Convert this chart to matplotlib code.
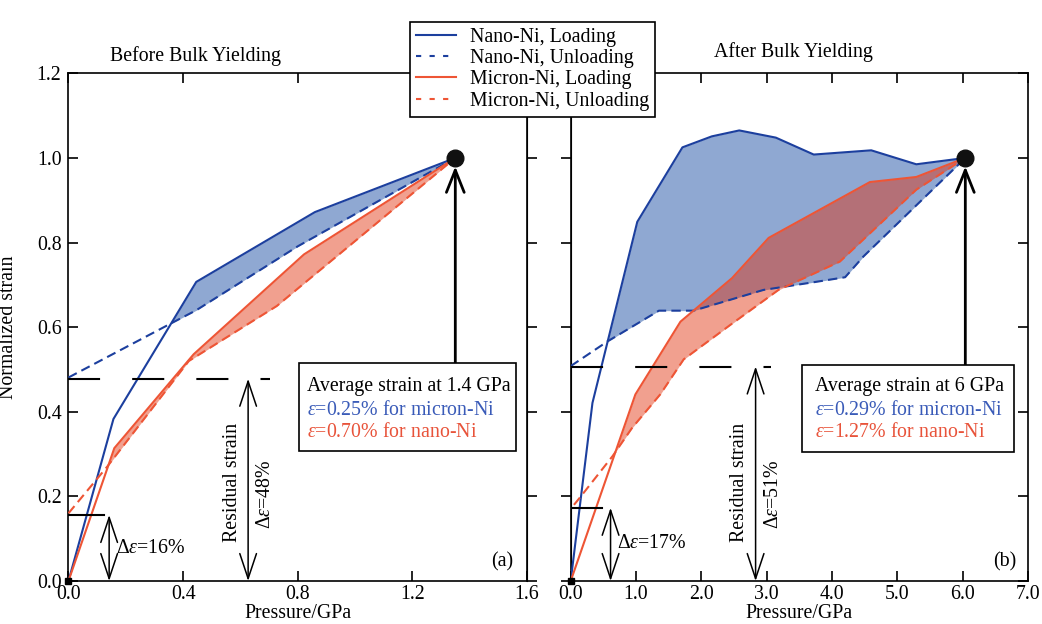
import numpy as np
import matplotlib
matplotlib.use("Agg")
import matplotlib.pyplot as plt
from matplotlib.lines import Line2D
from matplotlib.patches import Rectangle

plt.rcParams['font.family'] = ['Liberation Serif', 'DejaVu Serif']
plt.rcParams['mathtext.fontset'] = 'custom'
plt.rcParams['mathtext.rm'] = 'Liberation Serif'
plt.rcParams['mathtext.it'] = 'Liberation Serif:italic'
FS = 14.3
plt.rcParams['font.size'] = FS

# ---------------- data: panel (a) before bulk yielding ----------------
a_nano_load_x = [0.0, 0.157, 0.446, 0.860, 1.35]
a_nano_load_y = [0.0, 0.383, 0.707, 0.872, 1.0]
a_nano_unload_x = [0.0, 0.361, 0.446, 0.80, 1.35]
a_nano_unload_y = [0.481, 0.610, 0.640, 0.791, 1.0]
a_micron_load_x = [0.0, 0.160, 0.437, 0.822, 1.35]
a_micron_load_y = [0.0, 0.314, 0.536, 0.772, 1.0]
a_micron_unload_x = [0.0, 0.136, 0.42, 0.727, 1.35]
a_micron_unload_y = [0.160, 0.271, 0.520, 0.650, 1.0]
a_end = (1.35, 1.0)

# ---------------- data: panel (b) after bulk yielding ----------------
b_nano_load_x = [0.0, 0.333, 1.019, 1.71, 2.16, 2.58, 3.14, 3.72, 4.60, 5.29, 6.04]
b_nano_load_y = [0.0, 0.421, 0.849, 1.025, 1.051, 1.065, 1.048, 1.008, 1.018, 0.985, 1.0]
b_nano_unload_x = [0.0, 0.56, 1.35, 1.88, 2.95, 3.71, 4.20, 4.48, 6.04]
b_nano_unload_y = [0.508, 0.566, 0.639, 0.639, 0.688, 0.706, 0.718, 0.767, 1.0]
b_micron_load_x = [0.0, 0.99, 1.68, 2.47, 3.03, 4.58, 5.29, 6.04]
b_micron_load_y = [0.0, 0.441, 0.613, 0.716, 0.811, 0.943, 0.955, 1.0]
b_micron_unload_x = [0.05, 0.155, 0.64, 0.94, 1.37, 1.73, 2.44, 3.18, 4.12, 5.29, 6.04]
b_micron_unload_y = [0.18, 0.20, 0.295, 0.362, 0.441, 0.524, 0.605, 0.688, 0.755, 0.925, 1.0]
b_end = (6.04, 1.0)

a_xticks = [0.0, 0.4, 0.8, 1.2, 1.6]
b_xticks = [0.0, 1.0, 2.0, 3.0, 4.0, 5.0, 6.0, 7.0]
yticks = [0.0, 0.2, 0.4, 0.6, 0.8, 1.0, 1.2]

BLUE = '#1c3f9e'
RED = '#ee5535'
BLUE_FILL = '#8fa8d2'
RED_FILL = (226/255, 44/255, 8/255)
BLUE_TXT = '#3a5bb8'
RED_TXT = '#e8533a'

fig = plt.figure(figsize=(10.42, 6.24), dpi=100)
axA = fig.add_axes([0.0657, 0.0689, 0.440, 0.8136])
axB = fig.add_axes([0.5477, 0.0689, 0.4389, 0.8136])

DASH = (4.5, 2.5)


def fill_loop(ax, lx, ly, ux, uy, color, alpha, z):
    xs = np.unique(np.concatenate([lx, ux]))
    xs = np.linspace(xs.min(), xs.max(), 800)
    yl = np.interp(xs, lx, ly)
    yu = np.interp(xs, ux, uy)
    ax.fill_between(xs, yl, yu, where=yl >= yu, interpolate=True,
                    color=color, alpha=alpha, lw=0, zorder=z)


def draw_panel(ax, nlx, nly, nux, nuy, mlx, mly, mux, muy, end):
    fill_loop(ax, nlx, nly, nux, nuy, BLUE_FILL, 1.0, 1)
    fill_loop(ax, mlx, mly, mux, muy, RED_FILL, 0.45, 2)
    ax.plot(nlx, nly, color=BLUE, lw=1.5, zorder=4)
    ax.plot(nux, nuy, color=BLUE, lw=1.5, ls=(0, DASH), zorder=4)
    ax.plot(mlx, mly, color=RED, lw=1.5, zorder=4)
    ax.plot(mux, muy, color=RED, lw=1.5, ls=(0, DASH), zorder=4)
    ax.plot([end[0]], [end[1]], 'o', color='#111111', ms=12, zorder=6)
    ax.plot([0], [0], 's', color='black', ms=5, zorder=6, clip_on=False)


draw_panel(axA, a_nano_load_x, a_nano_load_y, a_nano_unload_x, a_nano_unload_y,
           a_micron_load_x, a_micron_load_y, a_micron_unload_x, a_micron_unload_y, a_end)
draw_panel(axB, b_nano_load_x, b_nano_load_y, b_nano_unload_x, b_nano_unload_y,
           b_micron_load_x, b_micron_load_y, b_micron_unload_x, b_micron_unload_y, b_end)

# axes setup
for ax, xt, xlim in [(axA, a_xticks, (0, 1.6)), (axB, b_xticks, (0, 7.0))]:
    ax.set_xlim(*xlim)
    ax.set_ylim(0, 1.2)
    ax.set_xticks(xt)
    ax.set_xticklabels([f'{v:.1f}' for v in xt])
    ax.set_yticks(yticks)
    ax.tick_params(axis='x', direction='in', top=True, length=7, width=1.2, pad=3, labelsize=FS)
    ax.set_xlabel('Pressure/GPa', fontsize=FS, labelpad=0)
    for s in ax.spines.values():
        s.set_linewidth(1.2)

axA.set_yticklabels([f'{v:.1f}' for v in yticks])
axA.tick_params(axis='y', direction='in', left=True, right=False, length=7, width=1.2, labelsize=FS, pad=5)
secA = axA.secondary_yaxis('right')
secA.set_yticks(yticks)
secA.tick_params(axis='y', direction='out', length=7, width=1.2, labelright=False)
axA.set_ylabel('Normalized strain', fontsize=FS)
axA.yaxis.set_label_coords(-0.11, 0.5)

axB.tick_params(axis='y', direction='in', left=False, right=True, labelleft=False, length=7, width=1.2)
secB = axB.secondary_yaxis('left')
secB.set_yticks(yticks)
secB.tick_params(axis='y', direction='out', length=7, width=1.2, labelleft=False)

arrow_big = dict(arrowstyle='->,head_length=0.8,head_width=0.32', lw=2.0, color='black',
                 mutation_scale=20, shrinkA=0, shrinkB=0)
arrow_dbl = dict(arrowstyle='<->,head_length=0.9,head_width=0.3', lw=1.1, color='black',
                 mutation_scale=20, shrinkA=0, shrinkB=0)


def annotate_panel(ax, end, small_y, small_x1, small_arrow_x, small_text_x, small_text_y, small_label,
                   res_y, res_x1, res_arrow_x, res_text_x, res_label_x, res_label,
                   box, text_x, lines, letter, letter_x):
    ax.plot([0.0, small_x1], [small_y, small_y], color='black', lw=1.5, zorder=5)
    ax.annotate('', xy=(small_arrow_x, small_y), xytext=(small_arrow_x, 0.0),
                arrowprops=arrow_dbl, zorder=5)
    ax.text(small_text_x, small_text_y, small_label, ha='left', va='center', fontsize=FS)
    ax.plot([0.0, res_x1], [res_y, res_y], color='black', lw=1.5,
            ls=(0, (15.4, 15.4)), zorder=5)
    ax.annotate('', xy=(res_arrow_x, res_y), xytext=(res_arrow_x, 0.0),
                arrowprops=arrow_dbl, zorder=5)
    ax.text(res_text_x, 0.232, 'Residual strain', rotation=90, ha='center', va='center', fontsize=FS)
    ax.text(res_label_x, 0.205, res_label, rotation=90, ha='center', va='center', fontsize=FS)
    x0, x1, y0, y1 = box
    ax.add_patch(Rectangle((x0, y0), x1 - x0, y1 - y0, facecolor='white',
                           edgecolor='black', lw=1.2, zorder=6))
    for (txt, col), yy in zip(lines, [0.459, 0.404, 0.350]):
        ax.text(text_x, yy, txt, color=col, ha='left', va='center', fontsize=FS, zorder=7)
    ax.annotate('', xy=(end[0], end[1] - 0.02), xytext=(end[0], y1),
                arrowprops=arrow_big, zorder=5)
    ax.text(letter_x, 0.045, letter, ha='center', va='center', fontsize=FS)


annotate_panel(axA, a_end, 0.156, 0.124, 0.142, 0.166, 0.077, 'Δ$\\varepsilon$=16%',
               0.478, 0.703, 0.627, 0.573, 0.686, 'Δ$\\varepsilon$=48%',
               (0.804, 1.561, 0.307, 0.515), 0.831,
               [('Average strain at 1.4 GPa', 'black'),
                ('$\\varepsilon$=0.25% for micron-Ni', BLUE_TXT),
                ('$\\varepsilon$=0.70% for nano-Ni', RED_TXT)],
               '(a)', 1.513)
annotate_panel(axB, b_end, 0.173, 0.485, 0.61, 0.714, 0.089, 'Δ$\\varepsilon$=17%',
               0.507, 3.07, 2.83, 2.59, 3.10, 'Δ$\\varepsilon$=51%',
               (3.535, 6.79, 0.304, 0.510), 3.74,
               [('Average strain at 6 GPa', 'black'),
                ('$\\varepsilon$=0.29% for micron-Ni', BLUE_TXT),
                ('$\\varepsilon$=1.27% for nano-Ni', RED_TXT)],
               '(b)', 6.65)

fig.text(196 / 1042, 1 - 56 / 624, 'Before Bulk Yielding', ha='center', va='center', fontsize=FS)
fig.text(793 / 1042, 1 - 52 / 624, 'After Bulk Yielding', ha='center', va='center', fontsize=FS)

handles = [
    Line2D([], [], color=BLUE, lw=1.5),
    Line2D([], [], color=BLUE, lw=1.5, ls=(0, (2.5, 4))),
    Line2D([], [], color=RED, lw=1.5),
    Line2D([], [], color=RED, lw=1.5, ls=(0, (2.5, 4))),
]
labels = ['Nano-Ni, Loading', 'Nano-Ni, Unloading', 'Micron-Ni, Loading', 'Micron-Ni, Unloading']
leg = fig.legend(handles, labels, loc='upper center', bbox_to_anchor=(532.5 / 1042, 1 - 11.7 / 624),
                 frameon=True, fancybox=False, edgecolor='black', framealpha=1, fontsize=FS,
                 handlelength=2.0, labelspacing=0.12, borderpad=0.3, handletextpad=0.7)
leg.get_frame().set_linewidth(1.2)
leg.set_zorder(10)

fig.savefig('out.png', dpi=100)
